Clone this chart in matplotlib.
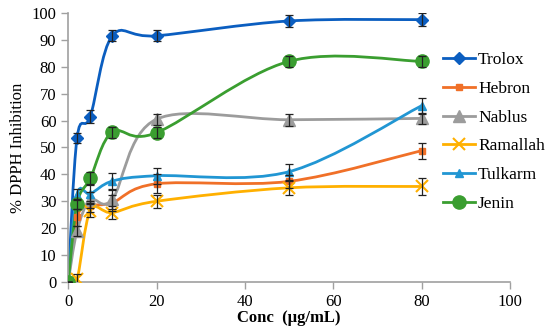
import numpy as np
import matplotlib
matplotlib.use("Agg")
import matplotlib.pyplot as plt
from matplotlib.path import Path
from matplotlib.patches import PathPatch
from matplotlib.lines import Line2D

plt.rcParams["font.family"] = ["Liberation Serif", "DejaVu Serif"]

# ── data ──────────────────────────────────────────────────────────────────
conc = [0, 2, 5, 10, 20, 50, 80]

trolox   = [0, 53.5, 61.5, 91.5, 91.5, 97.0, 97.5]
hebron   = [0, 24.0, 28.2, 29.5, 36.5, 37.4, 48.8]
nablus   = [0, 19.0, 30.5, 30.8, 60.5, 60.3, 60.8]
ramallah = [0, 1.0, 26.5, 25.8, 30.0, 35.0, 35.5]
tulkarm  = [0, 32.5, 32.8, 37.5, 39.5, 41.0, 65.5]
jenin    = [0, 29.0, 38.5, 55.7, 55.5, 82.0, 82.0]

trolox_err   = [0, 2.0, 2.3, 2.0, 2.0, 2.3, 2.3]
hebron_err   = [0, 3.0, 2.0, 3.0, 3.5, 2.5, 3.0]
nablus_err   = [0, 2.0, 3.0, 3.5, 2.0, 2.3, 2.0]
ramallah_err = [0, 2.0, 2.5, 2.5, 2.5, 2.5, 3.0]
tulkarm_err  = [0, 2.0, 3.5, 3.0, 3.0, 3.0, 3.0]
jenin_err    = [0, 2.0, 2.3, 2.0, 2.0, 2.0, 2.0]

labels = ["Trolox", "Hebron", "Nablus", "Ramallah", "Tulkarm", "Jenin"]
series = [trolox, hebron, nablus, ramallah, tulkarm, jenin]
errors = [trolox_err, hebron_err, nablus_err, ramallah_err, tulkarm_err, jenin_err]

colors  = ["#0B5EC0", "#F07028", "#9C9C9C", "#FFB000", "#2196D3", "#3A9E30"]
markers = ["D", "s", "^", "x", "^", "o"]
msizes  = [6.5, 4.5, 8, 8, 6, 9.5]


def smooth_path(x, y):
    """Excel-style smoothed line: Catmull-Rom as cubic Bezier segments."""
    pts = np.column_stack([x, y]).astype(float)
    n = len(pts)
    verts = [pts[0]]
    codes = [Path.MOVETO]
    for i in range(n - 1):
        p0 = pts[i - 1] if i > 0 else pts[i]
        p1, p2 = pts[i], pts[i + 1]
        p3 = pts[i + 2] if i + 2 < n else pts[i + 1]
        c1 = p1 + (p2 - p0) / 6.0
        c2 = p2 - (p3 - p1) / 6.0
        verts += [c1, c2, p2]
        codes += [Path.CURVE4] * 3
    return Path(verts, codes)


# ── figure ────────────────────────────────────────────────────────────────
fig = plt.figure(figsize=(5.5, 3.31), dpi=100)
ax = fig.add_axes([0.124, 0.148, 0.803, 0.813])

handles = []
for y, e, c, m, ms, lab in zip(series, errors, colors, markers, msizes, labels):
    ax.add_patch(PathPatch(smooth_path(conc, y), fill=False, edgecolor=c,
                           lw=2.0, zorder=2, capstyle="round"))
    ax.plot(conc, y, linestyle="none", marker=m, ms=ms, color=c,
            mew=1.5 if m == "x" else 1.0, zorder=3)
    ax.errorbar(conc, y, yerr=e, fmt="none", ecolor="#222222",
                elinewidth=0.9, capsize=3, capthick=0.9, zorder=4)
    handles.append(Line2D([], [], color=c, lw=2.0, marker=m, ms=ms,
                          mew=1.5 if m == "x" else 1.0, label=lab))

ax.set_xlim(0, 100)
ax.set_ylim(0, 100)
ax.set_xticks(range(0, 101, 20))
ax.set_yticks(range(0, 101, 10))
ax.tick_params(direction="out", length=5, width=1, color="#A0A0A0",
               labelsize=12, labelcolor="black")
for s in ["top", "right"]:
    ax.spines[s].set_visible(False)
for s in ["left", "bottom"]:
    ax.spines[s].set_color("#A0A0A0")
    ax.spines[s].set_linewidth(1.2)

ax.set_xlabel("Conc  (µg/mL)", fontsize=12, fontweight="bold", labelpad=0)
ax.set_ylabel("% DPPH Inhibition", fontsize=12, labelpad=4)

fig.legend(handles=handles, loc="upper left", bbox_to_anchor=(0.806, 0.842),
           frameon=False, fontsize=12.5, handlelength=1.8, handletextpad=0.2,
           labelspacing=0.72, borderpad=0, borderaxespad=0)

fig.savefig("out.png", dpi=100)
